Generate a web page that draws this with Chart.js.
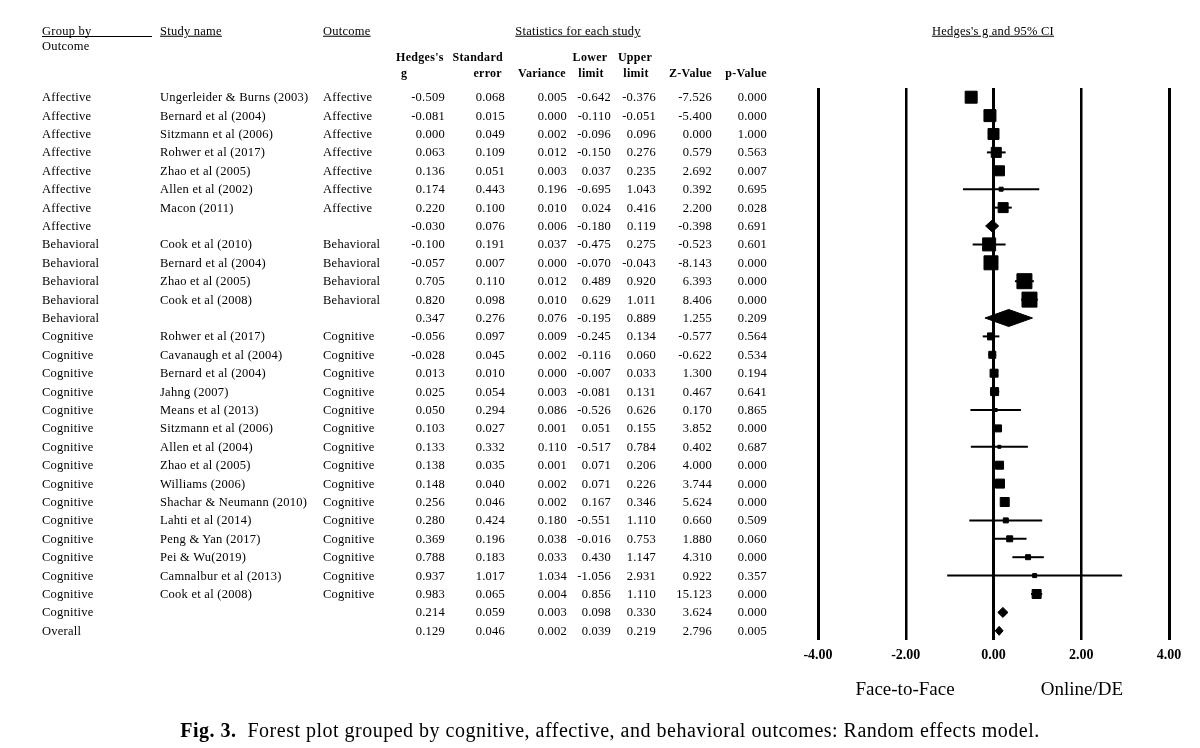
<!DOCTYPE html>
<html>
<head>
<meta charset="utf-8">
<title>Forest plot by outcome</title>
<script src="https://cdn.jsdelivr.net/npm/chart.js@4.4.0/dist/chart.umd.min.js"></script>
<style>
  body { margin: 0; background: #fff; }
  #page { position: relative; width: 1200px; height: 748px; overflow: hidden;
          font-family: 'Liberation Serif', 'Times New Roman', serif; color: #000; }
  #forest { position: absolute; left: 0; top: 0; }
  .t { position: absolute; white-space: nowrap; line-height: 1; transform: translateY(-50%);
       font-size: 12.5px; letter-spacing: 0.25px; }
  .b { font-weight: bold; font-size: 12px; letter-spacing: 0.3px; }
  .u { text-decoration: underline; }
  .big { font-size: 19px; letter-spacing: 0; }
  .cap { font-size: 20px; letter-spacing: 0.5px; }
</style>
</head>
<body>
<div id="page">
  <canvas id="forest" width="1200" height="748"></canvas>
</div>
<script>
// Data
const groups = ['Affective','Affective','Affective','Affective','Affective','Affective','Affective','Affective',
  'Behavioral','Behavioral','Behavioral','Behavioral','Behavioral',
  'Cognitive','Cognitive','Cognitive','Cognitive','Cognitive','Cognitive','Cognitive','Cognitive','Cognitive',
  'Cognitive','Cognitive','Cognitive','Cognitive','Cognitive','Cognitive','Cognitive','Overall'];
const studies = ['Ungerleider & Burns (2003)','Bernard et al (2004)','Sitzmann et al (2006)','Rohwer et al (2017)',
  'Zhao et al (2005)','Allen et al (2002)','Macon (2011)','',
  'Cook et al (2010)','Bernard et al (2004)','Zhao et al (2005)','Cook et al (2008)','',
  'Rohwer et al (2017)','Cavanaugh et al (2004)','Bernard et al (2004)','Jahng (2007)','Means et al (2013)',
  'Sitzmann et al (2006)','Allen et al (2004)','Zhao et al (2005)','Williams (2006)','Shachar & Neumann (2010)',
  'Lahti et al (2014)','Peng & Yan (2017)','Pei & Wu(2019)','Camnalbur et al (2013)','Cook et al (2008)','',''];
const outcomes = studies.map((s, i) => s === '' ? '' : groups[i]);
const hedgesG   = [-0.509,-0.081,0.000,0.063,0.136,0.174,0.220,-0.030, -0.100,-0.057,0.705,0.820,0.347,
  -0.056,-0.028,0.013,0.025,0.050,0.103,0.133,0.138,0.148,0.256,0.280,0.369,0.788,0.937,0.983,0.214,0.129];
const stdError  = [0.068,0.015,0.049,0.109,0.051,0.443,0.100,0.076, 0.191,0.007,0.110,0.098,0.276,
  0.097,0.045,0.010,0.054,0.294,0.027,0.332,0.035,0.040,0.046,0.424,0.196,0.183,1.017,0.065,0.059,0.046];
const variance  = [0.005,0.000,0.002,0.012,0.003,0.196,0.010,0.006, 0.037,0.000,0.012,0.010,0.076,
  0.009,0.002,0.000,0.003,0.086,0.001,0.110,0.001,0.002,0.002,0.180,0.038,0.033,1.034,0.004,0.003,0.002];
const lowerLimit = [-0.642,-0.110,-0.096,-0.150,0.037,-0.695,0.024,-0.180, -0.475,-0.070,0.489,0.629,-0.195,
  -0.245,-0.116,-0.007,-0.081,-0.526,0.051,-0.517,0.071,0.071,0.167,-0.551,-0.016,0.430,-1.056,0.856,0.098,0.039];
const upperLimit = [-0.376,-0.051,0.096,0.276,0.235,1.043,0.416,0.119, 0.275,-0.043,0.920,1.011,0.889,
  0.134,0.060,0.033,0.131,0.626,0.155,0.784,0.206,0.226,0.346,1.110,0.753,1.147,2.931,1.110,0.330,0.219];
const zValue    = [-7.526,-5.400,0.000,0.579,2.692,0.392,2.200,-0.398, -0.523,-8.143,6.393,8.406,1.255,
  -0.577,-0.622,1.300,0.467,0.170,3.852,0.402,4.000,3.744,5.624,0.660,1.880,4.310,0.922,15.123,3.624,2.796];
const pValue    = [0.000,0.000,1.000,0.563,0.007,0.695,0.028,0.691, 0.601,0.000,0.000,0.000,0.209,
  0.564,0.534,0.194,0.641,0.865,0.000,0.687,0.000,0.000,0.000,0.509,0.060,0.000,0.357,0.000,0.000,0.005];
const xTicks = [-4, -2, 0, 2, 4];

// Styles: marker size in px (square side, or diamond height for summary rows)
const markPx = [13,13,12,11,11,5,11,12, 14,15,16,16,17, 8,8,9,9,4,8,4,9,10,10,6,7,6,5,10,10,9];
const AREA_TOP = 88, AREA_BOTTOM = 640;
const ROW_PX = (AREA_BOTTOM - AREA_TOP) / hedgesG.length;

const rows = hedgesG.map((g, i) => i);
const isSummary = studies.map(s => s === '');

const ciSets = rows.filter(i => !isSummary[i]).map(i => ({
  type: 'line',
  data: [{x: lowerLimit[i], y: i}, {x: upperLimit[i], y: i}],
  borderColor: '#000', borderWidth: 2, pointRadius: 0, fill: false
}));

const diamondSets = rows.filter(i => isSummary[i]).map(i => {
  const h = markPx[i] / 2 / ROW_PX;
  return {
    type: 'line',
    data: [{x: lowerLimit[i], y: i}, {x: hedgesG[i], y: i - h}, {x: upperLimit[i], y: i},
           {x: hedgesG[i], y: i + h}, {x: lowerLimit[i], y: i}],
    borderColor: '#000', backgroundColor: '#000', borderWidth: 1,
    pointRadius: 0, fill: 'shape', tension: 0
  };
});

const boxSet = {
  type: 'scatter',
  data: rows.filter(i => !isSummary[i]).map(i => ({x: hedgesG[i], y: i, s: markPx[i]})),
  pointStyle: 'rect',
  pointRadius: ctx => Math.max(ctx.raw.s - 1, 1) / (2 * Math.SQRT1_2),
  pointBackgroundColor: '#000', pointBorderColor: '#000', pointBorderWidth: 1
};

const chart = new Chart(document.getElementById('forest'), {
  type: 'scatter',
  data: { datasets: [...ciSets, boxSet, ...diamondSets] },
  options: {
    responsive: false,
    animation: false,
    events: [],
    layout: { padding: { left: 818, right: 31, top: AREA_TOP, bottom: 748 - AREA_BOTTOM - 40 } },
    plugins: { legend: { display: false }, tooltip: { enabled: false } },
    scales: {
      x: {
        type: 'linear', min: -4, max: 4,
        afterBuildTicks: s => { s.ticks = xTicks.map(v => ({value: v})); },
        afterFit: s => { s.height = 40; s.paddingLeft = 0; s.paddingRight = 0; },
        ticks: {
          callback: v => Number(v).toFixed(2),
          color: '#000', padding: 7, maxRotation: 0, autoSkip: false,
          font: { family: 'Liberation Serif', size: 14, weight: 'bold' }
        },
        grid: {
          color: '#000', drawTicks: false,
          lineWidth: ctx => Math.abs(ctx.tick.value) === 2 ? 2.5 : 3
        },
        border: { display: false }
      },
      y: { type: 'linear', min: -0.5, max: hedgesG.length - 0.5, reverse: true, display: false }
    }
  }
});

// Table text, placed on the chart's row positions
const page = document.getElementById('page');
function put(txt, x, y, cls, align) {
  const d = document.createElement('div');
  d.className = 't ' + (cls || '');
  d.textContent = txt;
  if (align === 'right') { d.style.left = (x - 200) + 'px'; d.style.width = '200px'; d.style.textAlign = 'right'; }
  else if (align === 'center') { d.style.left = (x - 1000) + 'px'; d.style.width = '2000px'; d.style.textAlign = 'center'; }
  else d.style.left = x + 'px';
  d.style.top = y + 'px';
  page.appendChild(d);
  return d;
}

put('Group by', 42, 31);
const ul = document.createElement('div');
ul.style.cssText = 'position:absolute;left:42px;top:36px;width:110px;height:1px;background:#000;';
page.appendChild(ul);
put('Outcome', 42, 46);
put('Study name', 160, 31, 'u');
put('Outcome', 323, 31, 'u');
put('Statistics for each study', 578, 31, 'u', 'center');
put("Hedges's g and 95% CI", 993, 31, 'u', 'center');

put("Hedges's", 396, 57, 'b');
put('g', 401, 73, 'b');
put('Standard', 503, 57, 'b', 'right');
put('error', 502, 73, 'b', 'right');
put('Variance', 566, 73, 'b', 'right');
put('Lower', 590, 57, 'b', 'center');
put('limit', 591, 73, 'b', 'center');
put('Upper', 635, 57, 'b', 'center');
put('limit', 636, 73, 'b', 'center');
put('Z-Value', 712, 73, 'b', 'right');
put('p-Value', 767, 73, 'b', 'right');

const cols = [[hedgesG, 445], [stdError, 505], [variance, 567], [lowerLimit, 611],
              [upperLimit, 656], [zValue, 712], [pValue, 767]];
rows.forEach(i => {
  const y = chart.scales.y.getPixelForValue(i);
  put(groups[i], 42, y);
  if (studies[i]) put(studies[i], 160, y);
  if (outcomes[i]) put(outcomes[i], 323, y);
  cols.forEach(([arr, right]) => put(arr[i].toFixed(3), right, y, '', 'right'));
});

put('Face-to-Face', 905, 688, 'big', 'center');
put('Online/DE', 1082, 688, 'big', 'center');
const cap = put('', 610, 730, 'cap', 'center');
cap.innerHTML = '<b>Fig. 3.</b>&nbsp; Forest plot grouped by cognitive, affective, and behavioral outcomes: Random effects model.';
</script>
</body>
</html>
